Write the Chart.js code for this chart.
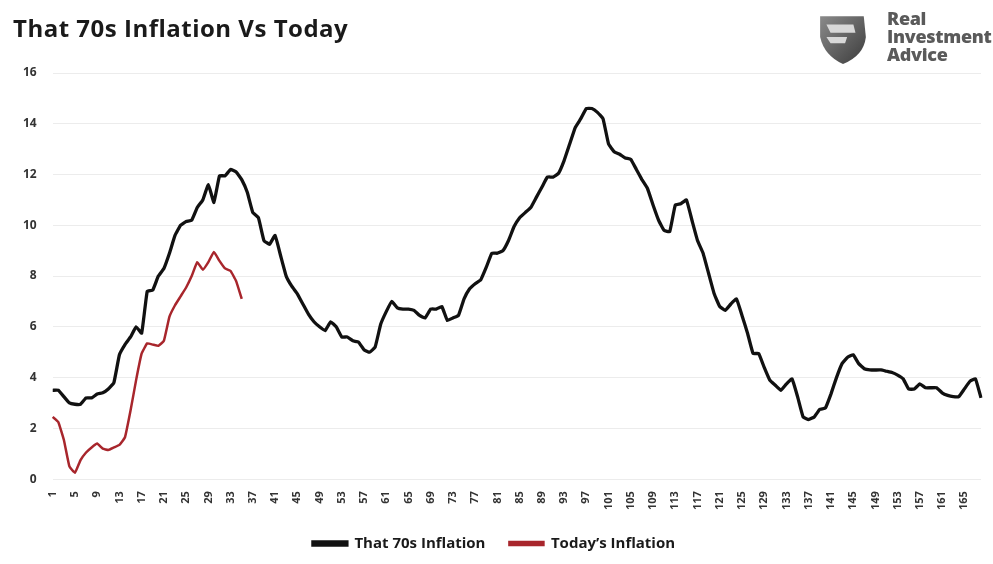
<!DOCTYPE html>
<html>
<head>
<meta charset="utf-8">
<script src="https://cdn.jsdelivr.net/npm/chart.js@4"></script>
<style>
    html, body { margin: 0; padding: 0; background: #fff; }
    #wrap { position: relative; width: 993px; height: 564px; }
    #title {
        position: absolute; left: 13px; top: 11px;
        font-family: 'Open Sans', sans-serif; font-weight: 700; font-size: 24px;
        color: #1a1a1a; letter-spacing: 0.5px; white-space: nowrap;
    }
    #logo { position: absolute; left: 816px; top: 9px; width: 177px; height: 60px; }
    #logo svg { position: absolute; left: 0; top: 3px; }
    #logo .name {
        position: absolute; left: 71px; top: 0;
        font-family: 'Open Sans', sans-serif; font-weight: 800; font-size: 18px;
        line-height: 18px; color: #5a5a5a; letter-spacing: -0.3px;
    }
</style>
</head>
<body>
<div id="wrap">
    <canvas id="inflationChart" width="993" height="564"></canvas>
    <div id="title">That 70s Inflation Vs Today</div>
    <div id="logo">
        <svg width="54" height="54" viewBox="0 0 52 52">
            <defs>
                <linearGradient id="g" x1="0" y1="0" x2="1" y2="1">
                    <stop offset="0" stop-color="#8a8a8a"/>
                    <stop offset="1" stop-color="#3c3c3c"/>
                </linearGradient>
            </defs>
            <path d="M4 4 L46 4 L48 24 Q46 42 26 50 Q8 42 4 24 Z" fill="url(#g)"/>
            <path d="M10 12 L36 12 L38 20 L14 20 Z M10 24 L30 24 L28 30 L14 30 Z" fill="#d8d8d8"/>
        </svg>
        <div class="name">Real<br>Investment<br>Advice</div>
    </div>
</div>
<script>
// Month index since start of each inflation episode
const categories = [];
for (let i = 1; i <= 168; i++) categories.push(String(i));

// CPI y/y, 1970s episode
const seventiesValues = [
    3.5, 3.5, 3.25, 3.0, 2.95, 2.95, 3.2, 3.2, 3.35, 3.4,
    3.55, 3.8, 4.9, 5.3, 5.6, 6.0, 5.75, 7.4, 7.45, 8.0,
    8.3, 8.9, 9.6, 10.0, 10.15, 10.2, 10.7, 11.0, 11.6, 10.9,
    11.95, 11.95, 12.2, 12.1, 11.8, 11.3, 10.5, 10.3, 9.4, 9.25,
    9.6, 8.8, 8.0, 7.6, 7.3, 6.9, 6.5, 6.2, 6.0, 5.85,
    6.2, 6.0, 5.6, 5.6, 5.45, 5.4, 5.1, 5.0, 5.2, 6.1,
    6.6, 7.0, 6.75, 6.7, 6.7, 6.65, 6.45, 6.35, 6.7, 6.7,
    6.8, 6.25, 6.35, 6.45, 7.1, 7.5, 7.7, 7.85, 8.35, 8.9,
    8.9, 9.0, 9.4, 9.95, 10.3, 10.5, 10.7, 11.1, 11.5, 11.9,
    11.9, 12.05, 12.55, 13.2, 13.85, 14.2, 14.6, 14.6, 14.45, 14.2,
    13.2, 12.9, 12.8, 12.65, 12.6, 12.2, 11.8, 11.45, 10.8, 10.2,
    9.8, 9.75, 10.8, 10.85, 11.0, 10.2, 9.4, 8.9, 8.1, 7.3,
    6.8, 6.65, 6.9, 7.1, 6.45, 5.75, 4.95, 4.95, 4.4, 3.9,
    3.7, 3.5, 3.75, 3.95, 3.25, 2.45, 2.35, 2.45, 2.75, 2.8,
    3.35, 4.0, 4.55, 4.8, 4.9, 4.55, 4.35, 4.3, 4.3, 4.3,
    4.25, 4.2, 4.1, 3.95, 3.55, 3.55, 3.75, 3.6, 3.6, 3.6,
    3.4, 3.3, 3.25, 3.25, 3.55, 3.85, 3.95, 3.2
];

// CPI y/y, current episode
const todayValues = [
    2.45, 2.25, 1.55, 0.5, 0.25, 0.75, 1.05, 1.25, 1.4, 1.2,
    1.15, 1.25, 1.35, 1.65, 2.7, 3.9, 4.95, 5.35, 5.3, 5.25,
    5.45, 6.4, 6.85, 7.2, 7.55, 8.0, 8.55, 8.25, 8.55, 8.95,
    8.6, 8.3, 8.2, 7.8, 7.1
];

const yTicks = [0, 2, 4, 6, 8, 10, 12, 14, 16];

const ctx = document.getElementById('inflationChart').getContext('2d');
const inflationChart = new Chart(ctx, {
    type: 'line',
    data: {
        labels: categories,
        datasets: [{
            label: 'That 70s Inflation',
            data: seventiesValues,
            borderColor: '#111111',
            backgroundColor: '#111111',
            borderWidth: 3.3,
            pointRadius: 0,
            tension: 0.1
        }, {
            label: 'Today\u2019s Inflation',
            data: todayValues,
            borderColor: '#a8262c',
            backgroundColor: '#a8262c',
            borderWidth: 2.5,
            pointRadius: 0,
            tension: 0.1
        }]
    },
    options: {
        responsive: false,
        animation: false,
        layout: { padding: { left: 7, right: 12, top: 73, bottom: 3 } },
        plugins: {
            title: { display: false },
            legend: {
                position: 'bottom',
                labels: {
                    boxWidth: 34,
                    boxHeight: 3,
                    padding: 24,
                    color: '#1a1a1a',
                    font: { family: 'Open Sans', size: 15, weight: 'bold' }
                }
            },
            tooltip: { enabled: false }
        },
        scales: {
            x: {
                offset: false,
                grid: { display: false },
                border: { display: false },
                afterFit: function(scale) {
                    // extra gap between the rotated labels and the legend
                    scale.height -= 2;
                    scale.paddingLeft = 0;
                    scale.paddingRight = 0;
                },
                ticks: {
                    autoSkip: false,
                    minRotation: 90,
                    maxRotation: 90,
                    padding: 4,
                    color: '#333333',
                    font: { family: 'Open Sans', size: 11, weight: 'bold' },
                    callback: function(value, index) {
                        return index % 4 === 0 ? this.getLabelForValue(value) : '';
                    }
                }
            },
            y: {
                min: 0,
                max: 16,
                afterBuildTicks: function(axis) {
                    axis.ticks = yTicks.map(v => ({ value: v }));
                },
                grid: { color: '#ececec', lineWidth: 1, drawTicks: false },
                border: { display: false },
                ticks: {
                    padding: 16,
                    color: '#333333',
                    font: { family: 'Open Sans', size: 12, weight: 'bold' }
                }
            }
        }
    }
});
</script>
</body>
</html>
